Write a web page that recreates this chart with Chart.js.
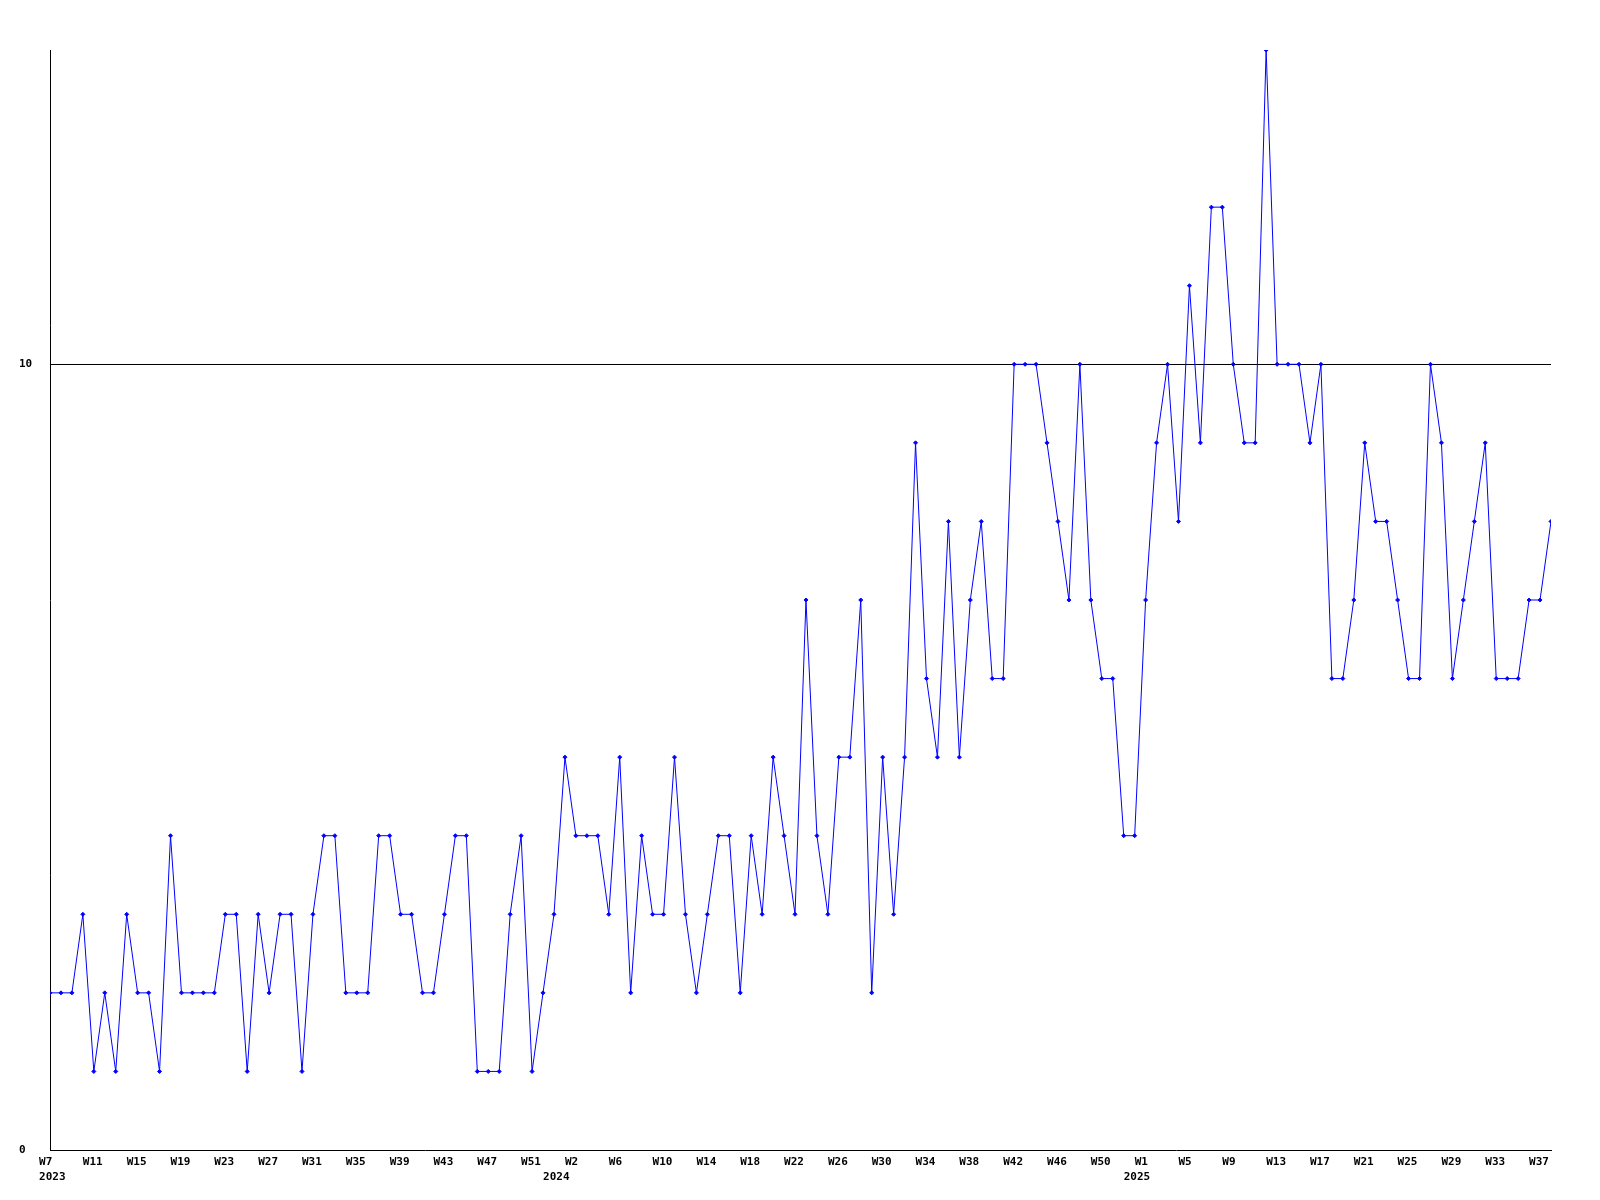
<!DOCTYPE html>
<html>
<head>
<meta charset="utf-8">
<script src="https://cdn.jsdelivr.net/npm/chart.js@4.4.1/dist/chart.umd.min.js"></script>
<style>
html,body{margin:0;padding:0;background:#fff}
canvas{display:block}
</style>
</head>
<body>
<canvas id="c" width="1600" height="1200"></canvas>
<script>
// Weekly values (one per data point, left to right)
const values = [
  2,2,2,3,1,2,1,3,2,2,1,4,2,2,2,2,3,3,1,3,2,3,3,1,
  3,4,4,2,2,2,4,4,3,3,2,2,3,4,4,1,1,1,3,4,1,2,3,
  5,4,4,4,3,5,2,4,3,3,5,3,2,3,4,4,2,4,3,5,4,3,7,4,3,
  5,5,7,2,5,3,5,9,6,5,8,5,7,8,6,6,10,10,10,9,8,7,10,7,
  6,6,4,4,7,9,10,8,11,9,12,12,10,9,9,14,10,10,10,9,10,6,
  6,7,9,8,8,7,6,6,10,9,6,7,8,9,6,6,6,7,7,8
];

// Week tick labels and the point index where each label starts
const weekLabels = ['W7','W11','W15','W19','W23','W27','W31','W35','W39','W43','W47','W51',
  'W2','W6','W10','W14','W18','W22','W26','W30','W34','W38','W42','W46','W50',
  'W1','W5','W9','W13','W17','W21','W25','W29','W33','W37'];
const weekLabelAt = [-1,3,7,11,15,19,23,27,31,35,39,43,
  47,51,55,59,63,67,71,75,79,83,87,91,95,
  99,103,107,111,115,119,123,127,131,135];

// Year tick labels (second row)
const yearLabels = ['2023','2024','2025'];
const yearLabelAt = [-1,45,98];

// Y axis
const yTickValues = [0,10];
const yMin = 0;
const yMax = 14;

// ---- build combined two-row x ticks ----
const tickMap = new Map();
weekLabels.forEach((w,i)=>{ tickMap.set(weekLabelAt[i], [w]); });
yearLabels.forEach((y,i)=>{
  const k = yearLabelAt[i];
  if (tickMap.has(k)) tickMap.get(k).push(y); else tickMap.set(k, ['', y]);
});
const xTicks = [...tickMap.entries()].sort((a,b)=>a[0]-b[0])
  .map(([v,t])=>({value:v, text: t.length===1 ? t[0] : t}));

const tickFont = {family:'DejaVu Sans Mono', size:11, weight:'bold', lineHeight:1.36};

new Chart(document.getElementById('c'), {
  type:'line',
  data:{
    datasets:[{
      data: values.map((v,i)=>({x:i, y:v})),
      borderColor:'#0000ff',
      borderWidth:1,
      backgroundColor:'#0000ff',
      pointStyle:'rectRot',
      pointRadius:2,
      pointBorderWidth:1,
      pointBorderColor:'#0000ff',
      pointBackgroundColor:'#0000ff',
      tension:0,
      fill:false
    }]
  },
  options:{
    responsive:false,
    devicePixelRatio:1,
    animation:false,
    events:[],
    layout:{padding:{left:19,right:49,top:50,bottom:10}},
    plugins:{legend:{display:false},tooltip:{enabled:false},title:{display:false}},
    scales:{
      x:{
        type:'linear',
        min:0,
        max:values.length-1,
        grid:{display:false, drawTicks:false},
        border:{display:true, color:'#000', width:1},
        afterBuildTicks:(s)=>{ s.ticks = xTicks.map(t=>({value:t.value, text:t.text})); },
        afterFit:(s)=>{ s.height = 40; },
        ticks:{
          autoSkip:false,
          maxRotation:0,
          minRotation:0,
          align:'start',
          padding:5,
          color:'#000',
          font:tickFont,
          callback:(v,i,ticks)=>ticks[i].text
        }
      },
      y:{
        type:'linear',
        min:yMin,
        max:yMax,
        grid:{
          drawTicks:false,
          lineWidth:1,
          color:(ctx)=> (ctx.tick && ctx.tick.value===10) ? '#000' : 'rgba(0,0,0,0)'
        },
        border:{display:true, color:'#000', width:1},
        afterBuildTicks:(s)=>{ s.ticks = yTickValues.map(v=>({value:v})); },
        afterFit:(s)=>{ s.width = 31; },
        ticks:{
          crossAlign:'far',
          padding:0,
          color:'#000',
          font:tickFont,
          callback:(v)=>String(v)
        }
      }
    }
  }
});
</script>
</body>
</html>
